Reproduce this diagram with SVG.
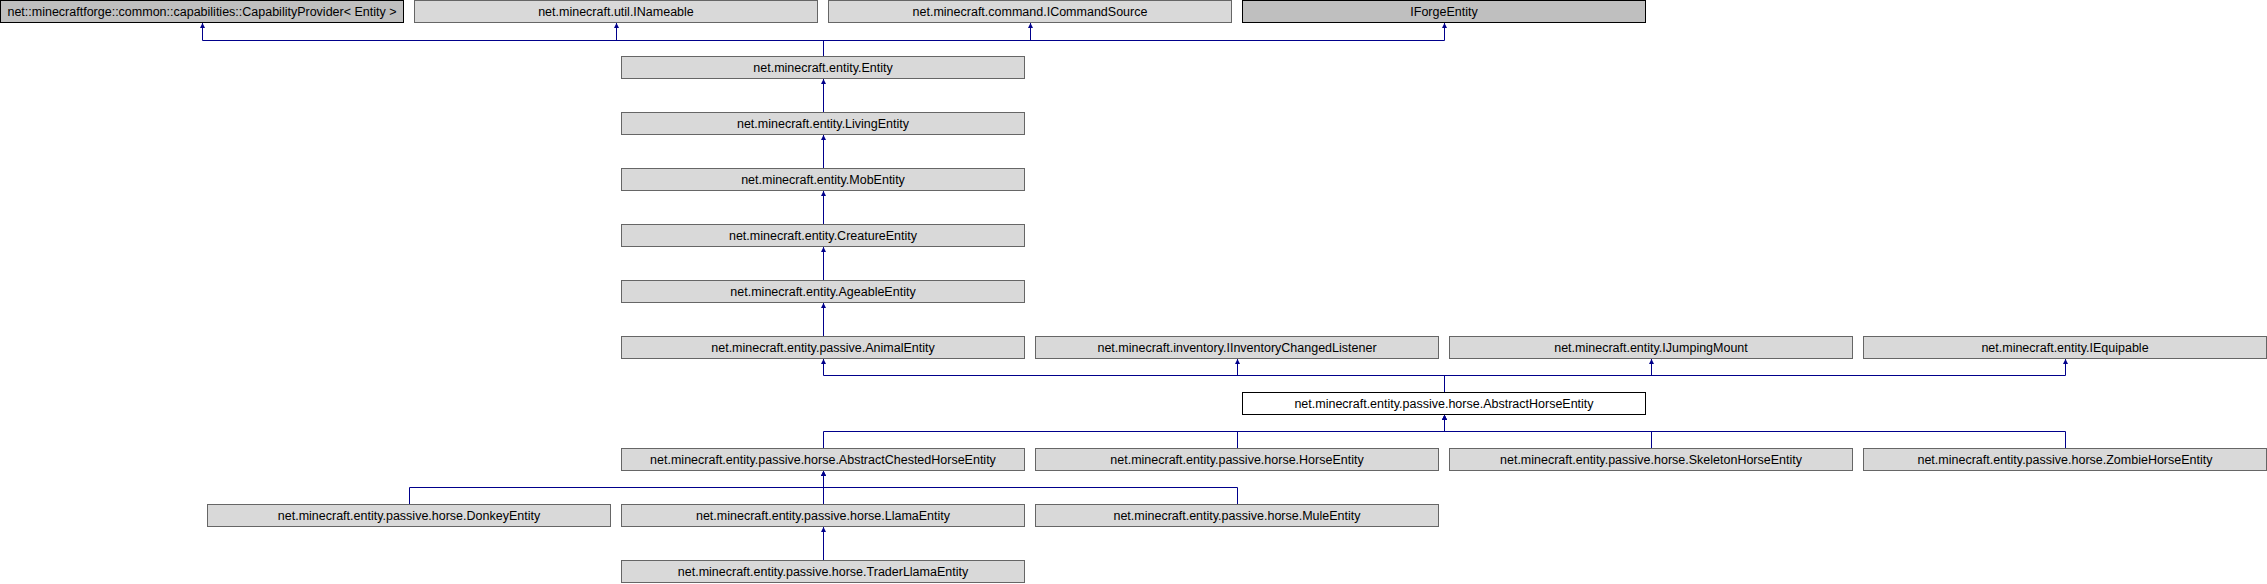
<svg xmlns="http://www.w3.org/2000/svg" width="2267" height="584" viewBox="0 0 2267 584">
<style>
.n rect{fill:#d9d9d9;stroke:#666666;stroke-width:1}
.n.d rect{fill:#bfbfbf;stroke:#000000}
.n.w rect{fill:#ffffff;stroke:#000000}
.n text{font-family:"Liberation Sans",Arial,Helvetica,sans-serif;font-size:12.5px;fill:#000000;text-anchor:middle}
#edges path{fill:none;stroke:#00008b;stroke-width:1;marker-end:url(#ah)}
</style>
<defs>
<marker id="ah" viewBox="0 0 10 10" refX="10" refY="5" markerWidth="6" markerHeight="5" markerUnits="userSpaceOnUse" orient="auto">
<path d="M0,0 L10,5 L0,10 z" fill="#00008b" stroke="none"/>
</marker>
</defs>
<rect x="0" y="0" width="2267" height="584" fill="#ffffff"/>
<g id="edges">
<path d="M823.5,56.5 V40.5 H202.5 V23"/>
<path d="M823.5,56.5 V40.5 H616.5 V23"/>
<path d="M823.5,56.5 V40.5 H1030.5 V23"/>
<path d="M823.5,56.5 V40.5 H1444.5 V23"/>
<path d="M823.5,112.5 V79"/>
<path d="M823.5,168.5 V135"/>
<path d="M823.5,224.5 V191"/>
<path d="M823.5,280.5 V247"/>
<path d="M823.5,336.5 V303"/>
<path d="M1444.5,392.5 V375.5 H823.5 V359"/>
<path d="M1444.5,392.5 V375.5 H1237.5 V359"/>
<path d="M1444.5,392.5 V375.5 H1651.5 V359"/>
<path d="M1444.5,392.5 V375.5 H2065.5 V359"/>
<path d="M823.5,448.5 V431.5 H1444.5 V415"/>
<path d="M1237.5,448.5 V431.5 H1444.5 V415"/>
<path d="M1651.5,448.5 V431.5 H1444.5 V415"/>
<path d="M2065.5,448.5 V431.5 H1444.5 V415"/>
<path d="M409.5,504.5 V487.5 H823.5 V471"/>
<path d="M823.5,504.5 V471"/>
<path d="M1237.5,504.5 V487.5 H823.5 V471"/>
<path d="M823.5,560.5 V527"/>
</g>
<g id="capabilityprovider" class="n d"><rect x="0.5" y="0.5" width="403" height="22"/><text x="202" y="16">net::minecraftforge::common::capabilities::CapabilityProvider&lt; Entity &gt;</text></g>
<g id="inameable" class="n"><rect x="414.5" y="0.5" width="403" height="22"/><text x="616" y="16">net.minecraft.util.INameable</text></g>
<g id="icommandsource" class="n"><rect x="828.5" y="0.5" width="403" height="22"/><text x="1030" y="16">net.minecraft.command.ICommandSource</text></g>
<g id="iforgeentity" class="n d"><rect x="1242.5" y="0.5" width="403" height="22"/><text x="1444" y="16">IForgeEntity</text></g>
<g id="entity" class="n"><rect x="621.5" y="56.5" width="403" height="22"/><text x="823" y="72">net.minecraft.entity.Entity</text></g>
<g id="livingentity" class="n"><rect x="621.5" y="112.5" width="403" height="22"/><text x="823" y="128">net.minecraft.entity.LivingEntity</text></g>
<g id="mobentity" class="n"><rect x="621.5" y="168.5" width="403" height="22"/><text x="823" y="184">net.minecraft.entity.MobEntity</text></g>
<g id="creatureentity" class="n"><rect x="621.5" y="224.5" width="403" height="22"/><text x="823" y="240">net.minecraft.entity.CreatureEntity</text></g>
<g id="ageableentity" class="n"><rect x="621.5" y="280.5" width="403" height="22"/><text x="823" y="296">net.minecraft.entity.AgeableEntity</text></g>
<g id="animalentity" class="n"><rect x="621.5" y="336.5" width="403" height="22"/><text x="823" y="352">net.minecraft.entity.passive.AnimalEntity</text></g>
<g id="iinventorychangedlistener" class="n"><rect x="1035.5" y="336.5" width="403" height="22"/><text x="1237" y="352">net.minecraft.inventory.IInventoryChangedListener</text></g>
<g id="ijumpingmount" class="n"><rect x="1449.5" y="336.5" width="403" height="22"/><text x="1651" y="352">net.minecraft.entity.IJumpingMount</text></g>
<g id="iequipable" class="n"><rect x="1863.5" y="336.5" width="403" height="22"/><text x="2065" y="352">net.minecraft.entity.IEquipable</text></g>
<g id="abstracthorseentity" class="n w"><rect x="1242.5" y="392.5" width="403" height="22"/><text x="1444" y="408">net.minecraft.entity.passive.horse.AbstractHorseEntity</text></g>
<g id="abstractchestedhorseentity" class="n"><rect x="621.5" y="448.5" width="403" height="22"/><text x="823" y="464">net.minecraft.entity.passive.horse.AbstractChestedHorseEntity</text></g>
<g id="horseentity" class="n"><rect x="1035.5" y="448.5" width="403" height="22"/><text x="1237" y="464">net.minecraft.entity.passive.horse.HorseEntity</text></g>
<g id="skeletonhorseentity" class="n"><rect x="1449.5" y="448.5" width="403" height="22"/><text x="1651" y="464">net.minecraft.entity.passive.horse.SkeletonHorseEntity</text></g>
<g id="zombiehorseentity" class="n"><rect x="1863.5" y="448.5" width="403" height="22"/><text x="2065" y="464">net.minecraft.entity.passive.horse.ZombieHorseEntity</text></g>
<g id="donkeyentity" class="n"><rect x="207.5" y="504.5" width="403" height="22"/><text x="409" y="520">net.minecraft.entity.passive.horse.DonkeyEntity</text></g>
<g id="llamaentity" class="n"><rect x="621.5" y="504.5" width="403" height="22"/><text x="823" y="520">net.minecraft.entity.passive.horse.LlamaEntity</text></g>
<g id="muleentity" class="n"><rect x="1035.5" y="504.5" width="403" height="22"/><text x="1237" y="520">net.minecraft.entity.passive.horse.MuleEntity</text></g>
<g id="traderllamaentity" class="n"><rect x="621.5" y="560.5" width="403" height="22"/><text x="823" y="576">net.minecraft.entity.passive.horse.TraderLlamaEntity</text></g>
</svg>
